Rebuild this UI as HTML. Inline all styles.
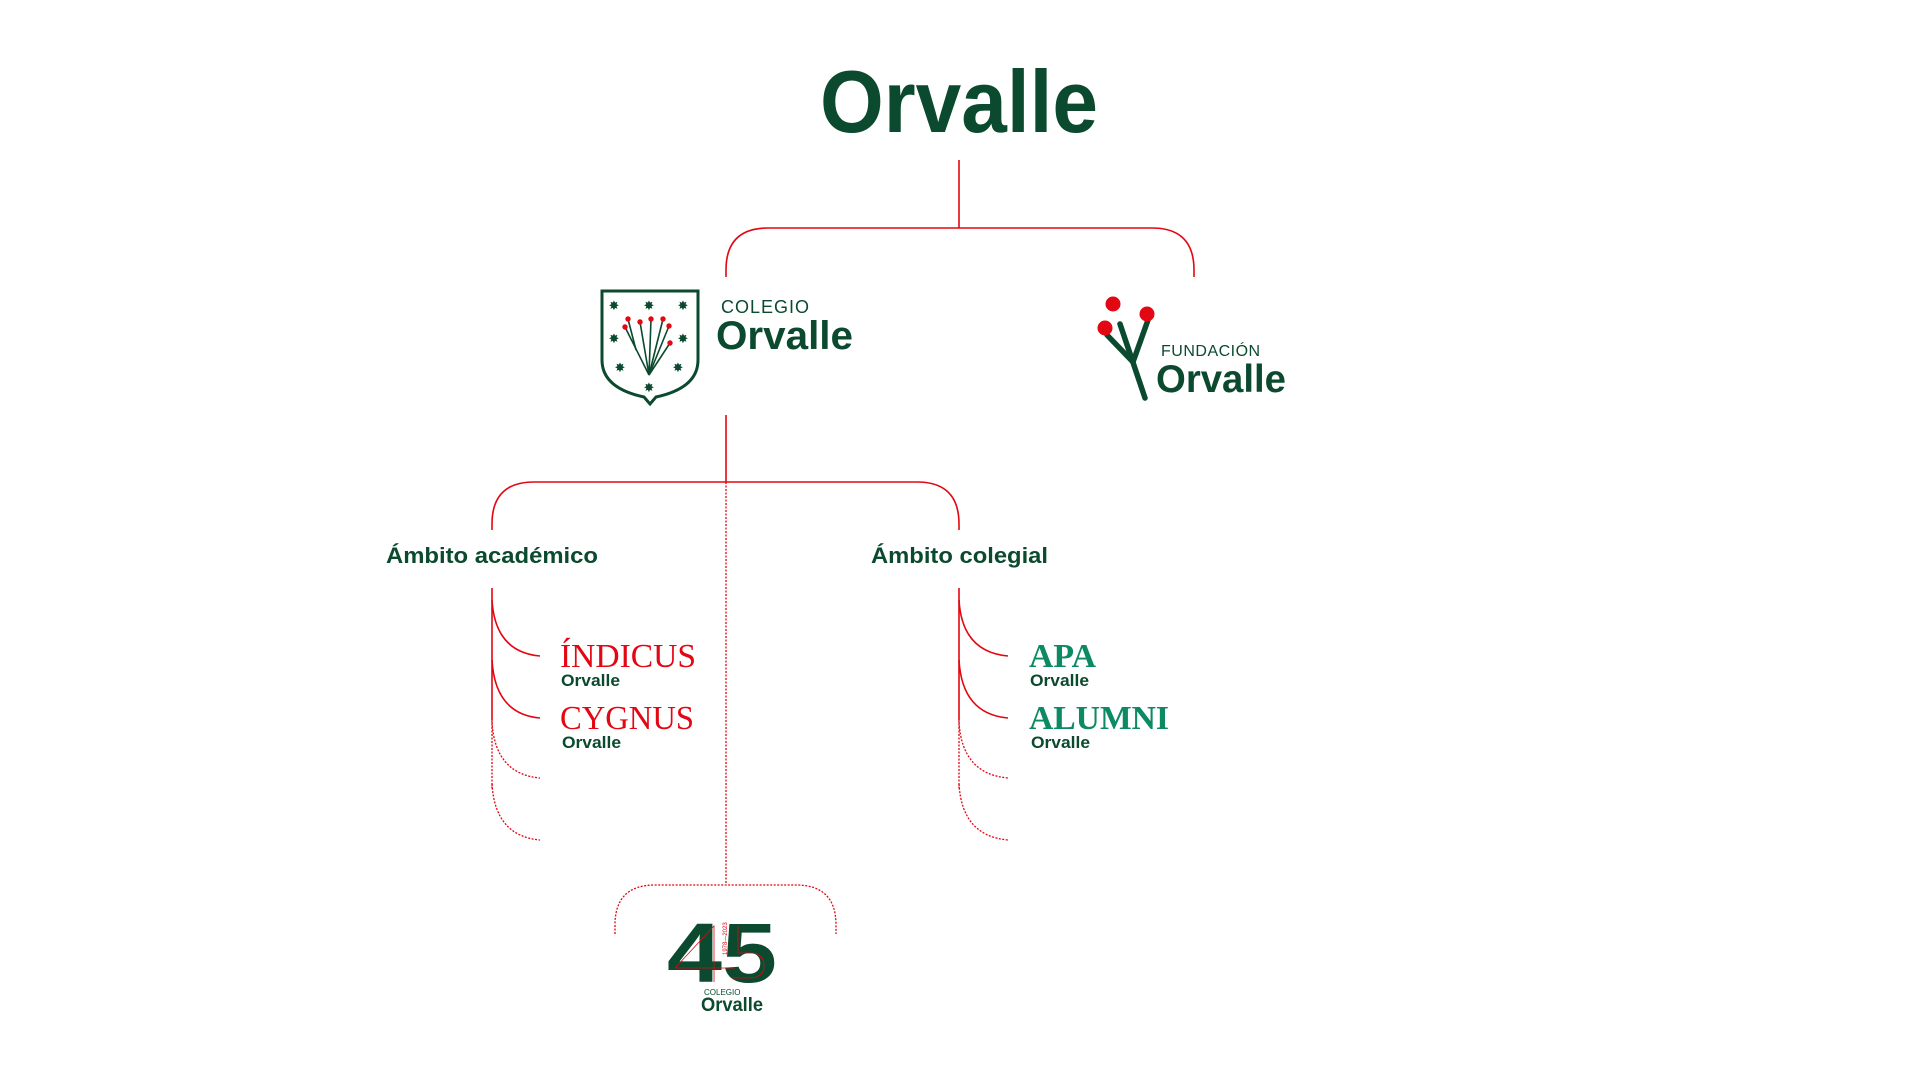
<!DOCTYPE html>
<html><head><meta charset="utf-8"><style>
html,body{margin:0;padding:0;background:#fff;width:1920px;height:1080px;overflow:hidden}
svg{display:block;font-family:"Liberation Sans",sans-serif}
</style></head><body>
<svg width="1920" height="1080" viewBox="0 0 1920 1080" xmlns="http://www.w3.org/2000/svg">
<g fill="none" stroke="#e30613" stroke-width="1.6">
 <path d="M959 160 V228"/>
 <path d="M726 277 V270 Q726 228 768 228 H1152 Q1194 228 1194 270 V277"/>
 <path d="M726 415 V482"/>
 <path d="M492 530 V524 Q492 482 534 482 H917 Q959 482 959 524 V530"/>
 <path d="M726 482 V885" stroke-dasharray="2 1.5" stroke-width="1.3"/>
 <path d="M615 934 V925 Q615 885 655 885 H796 Q836 885 836 925 V934" stroke-dasharray="2 1.5" stroke-width="1.3"/>
 <path d="M492 588 V720"/>
 <path d="M492 720 V790" stroke-dasharray="2 1.5" stroke-width="1.3"/>
 <path d="M492 600 Q495 652 540 656"/>
 <path d="M492 660 Q495 714 540 718"/>
 <path d="M492 722 Q495 774 540 778" stroke-dasharray="2 1.5" stroke-width="1.3"/>
 <path d="M492 784 Q495 836 540 840" stroke-dasharray="2 1.5" stroke-width="1.3"/>
 <path d="M959 588 V720"/>
 <path d="M959 720 V790" stroke-dasharray="2 1.5" stroke-width="1.3"/>
 <path d="M959 600 Q962 652 1008 656"/>
 <path d="M959 660 Q962 714 1008 718"/>
 <path d="M959 722 Q962 774 1008 778" stroke-dasharray="2 1.5" stroke-width="1.3"/>
 <path d="M959 784 Q962 836 1008 840" stroke-dasharray="2 1.5" stroke-width="1.3"/>
</g>

<text x="959" y="132" text-anchor="middle" font-size="88" font-weight="bold" fill="#0b4a2e" textLength="278" lengthAdjust="spacingAndGlyphs">Orvalle</text>

<g>
 <path d="M602 291 H698 V360 Q698 388 656 397 L650 404 L644 397 Q602 388 602 360 Z" fill="none" stroke="#0b4a2e" stroke-width="3"/>
 <g fill="#0b4a2e" font-size="13" text-anchor="middle" style="font-family:'DejaVu Sans',sans-serif">
  <text x="614" y="310">✸</text><text x="649" y="310">✸</text><text x="683" y="310">✸</text>
  <text x="614" y="343">✸</text><text x="683" y="343">✸</text>
  <text x="620" y="372">✸</text><text x="678" y="372">✸</text>
  <text x="649" y="392">✸</text>
 </g>
 <g stroke="#0b4a2e" stroke-width="1.6" fill="none">
  <path d="M649 375 L625 327"/><path d="M636 350 L628 319"/>
  <path d="M649 375 L640 322"/><path d="M649 375 L651 319"/><path d="M649 375 L663 319"/>
  <path d="M649 375 L669 326"/><path d="M649 375 L670 343"/>
 </g>
 <g fill="#e30613">
  <circle cx="628" cy="319" r="2.7"/><circle cx="625" cy="327" r="2.7"/><circle cx="640" cy="322" r="2.7"/>
  <circle cx="651" cy="319" r="2.7"/><circle cx="663" cy="319" r="2.7"/><circle cx="669" cy="326" r="2.7"/><circle cx="670" cy="343" r="2.7"/>
 </g>
</g>
<text x="721" y="313" font-size="18" fill="#0b4a2e" letter-spacing="1">COLEGIO</text>
<text x="716" y="349" font-size="40" font-weight="bold" fill="#0b4a2e" textLength="137" lengthAdjust="spacingAndGlyphs">Orvalle</text>

<g stroke="#0b4a2e" stroke-width="5.5" stroke-linecap="round" fill="none">
 <path d="M1145 398 L1120 324"/>
 <path d="M1133 362 L1148 320"/>
 <path d="M1133 362 L1107 335"/>
</g>
<g fill="#e30613">
 <circle cx="1113" cy="304" r="7.5"/><circle cx="1105" cy="328" r="7.5"/><circle cx="1147" cy="314" r="7.5"/>
</g>
<text x="1161" y="356" font-size="16" fill="#0b4a2e" letter-spacing="0.5">FUNDACIÓN</text>
<text x="1156" y="392" font-size="39" font-weight="bold" fill="#0b4a2e" textLength="130" lengthAdjust="spacingAndGlyphs">Orvalle</text>

<text x="386" y="563" font-size="22" fill="#0b4a2e" font-weight="bold" textLength="212" lengthAdjust="spacingAndGlyphs">Ámbito académico</text>
<text x="871" y="563" font-size="22" fill="#0b4a2e" font-weight="bold" textLength="177" lengthAdjust="spacingAndGlyphs">Ámbito colegial</text>

<g style="font-family:'Liberation Serif',serif">
 <text x="560" y="667" font-size="34" fill="#e30613" textLength="136" lengthAdjust="spacingAndGlyphs">ÍNDICUS</text>
 <text x="560" y="729" font-size="34" fill="#e30613" textLength="134" lengthAdjust="spacingAndGlyphs">CYGNUS</text>
 <text x="1029" y="667" font-size="34" font-weight="bold" fill="#0b8a63" textLength="67" lengthAdjust="spacingAndGlyphs">APA</text>
 <text x="1029" y="729" font-size="34" font-weight="bold" fill="#0b8a63" textLength="140" lengthAdjust="spacingAndGlyphs">ALUMNI</text>
</g>
<g font-size="17" font-weight="bold" fill="#0b4a2e">
 <text x="561" y="686" textLength="59" lengthAdjust="spacingAndGlyphs">Orvalle</text>
 <text x="562" y="748" textLength="59" lengthAdjust="spacingAndGlyphs">Orvalle</text>
 <text x="1030" y="686" textLength="59" lengthAdjust="spacingAndGlyphs">Orvalle</text>
 <text x="1031" y="748" textLength="59" lengthAdjust="spacingAndGlyphs">Orvalle</text>
</g>

<text x="667" y="982" font-size="84" font-weight="bold" fill="#0b4a2e" textLength="110" lengthAdjust="spacingAndGlyphs">45</text>
<g stroke="#e30613" stroke-width="0.8" fill="none">
 <path d="M675 968 L714 926 V982"/><path d="M675 968 H735"/>
 <path d="M738 926 V953 H750 Q764 953 764 966 Q764 978 748 978 H732"/>
</g>
<text x="727" y="955" font-size="6" fill="#e30613" transform="rotate(-90 727 955)">1978—2023</text>
<text x="704" y="995" font-size="8" fill="#0b4a2e">COLEGIO</text>
<text x="701" y="1011" font-size="19" font-weight="bold" fill="#0b4a2e" textLength="62" lengthAdjust="spacingAndGlyphs">Orvalle</text>
</svg>
</body></html>
